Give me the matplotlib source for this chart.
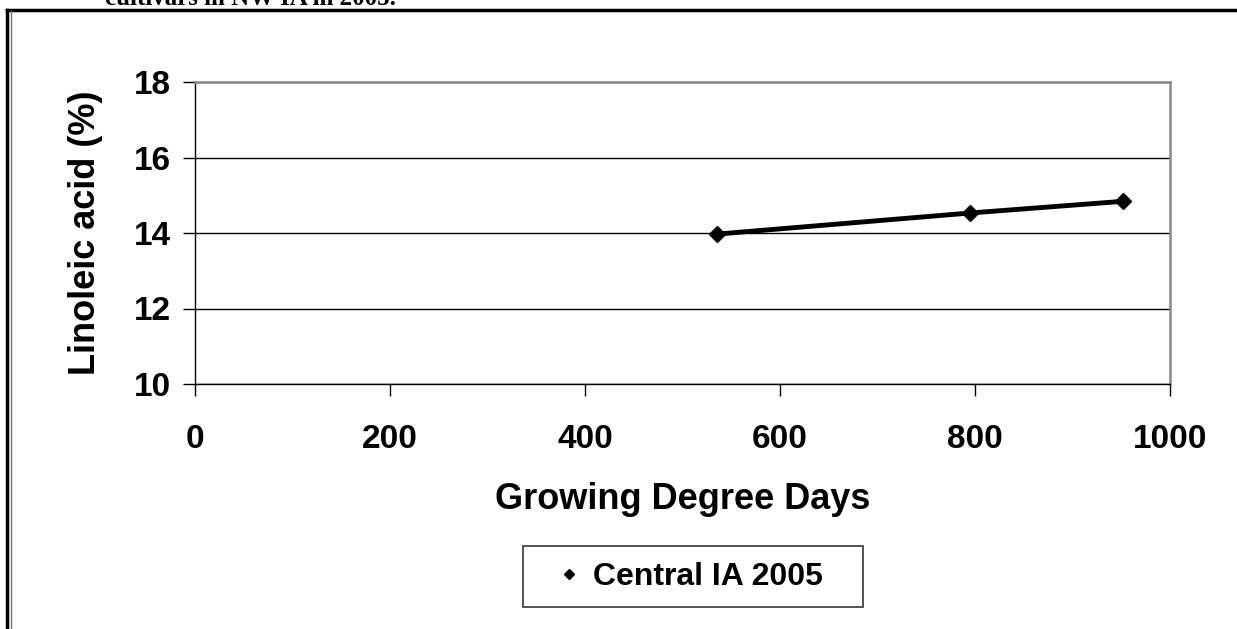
import matplotlib
matplotlib.use("Agg")
import matplotlib.pyplot as plt
from matplotlib.lines import Line2D
from matplotlib.patches import Rectangle

# values
gdd = [535, 795, 952]
linoleic = [13.97, 14.53, 14.84]
seri_adi = "Central IA 2005"
x_ticks = [0, 200, 400, 600, 800, 1000]
y_ticks = [10, 12, 14, 16, 18]

W, H = 1237, 629
plt.rcParams["font.family"] = ["Liberation Sans", "DejaVu Sans"]
plt.rcParams["font.weight"] = "bold"

fig = plt.figure(figsize=(W / 100, H / 100), dpi=100)
fig.patch.set_facecolor("white")


def px(x0, y0, x1, y1):
    """Piksel kutusunu figür koordinatına çevirir."""
    return [x0 / W, 1 - y1 / H, (x1 - x0) / W, (y1 - y0) / H]


ax = fig.add_axes(px(195, 82, 1170, 384))
ax.plot(gdd, linoleic, color="black", linewidth=3.5, marker="D",
        markersize=8.5, zorder=3)
ax.set_xlim(0, 1000)
ax.set_ylim(10, 18)
ax.set_xticks(x_ticks)
ax.set_yticks(y_ticks)
ax.grid(axis="y", color="black", linewidth=1)
ax.tick_params(axis="both", labelsize=24, length=8.5, width=1, color="black")
ax.tick_params(axis="x", pad=20)
ax.tick_params(axis="y", pad=9)
for lbl in ax.get_xticklabels() + ax.get_yticklabels():
    lbl.set_fontweight("bold")
ax.spines["top"].set_color("#888888")
ax.spines["right"].set_color("#888888")
ax.spines["top"].set_linewidth(1.8)
ax.spines["right"].set_linewidth(1.8)
ax.spines["left"].set_linewidth(1)
ax.spines["bottom"].set_linewidth(1)

ax.set_xlabel("Growing Degree Days", fontsize=26, fontweight="bold", labelpad=20)
ax.set_ylabel("Linoleic acid (%)", fontsize=26, fontweight="bold", labelpad=22)

# lejant: çerçeve ayrı çiziliyor
handle = Line2D([], [], color="black", marker="D", linestyle="none", markersize=5.5)
fig.legend([handle], [seri_adi], loc="center left",
           bbox_to_anchor=(553 / W, 1 - 577 / H),
           prop={"size": 23, "weight": "bold"}, frameon=False,
           handletextpad=0.25, borderpad=0, borderaxespad=0,
           handlelength=1.0)
fig.add_artist(Rectangle((523 / W, 1 - 607 / H), 340 / W, 61 / H,
                         transform=fig.transFigure, fill=False,
                         edgecolor="#444444", linewidth=1.3))

# sayfa çerçevesi ve kesik başlık
fig.add_artist(Line2D([7 / W, 1], [1 - 9.5 / H, 1 - 9.5 / H], color="black",
                      linewidth=2.5, transform=fig.transFigure))
fig.add_artist(Line2D([7.5 / W, 7.5 / W], [0, 1 - 9.5 / H], color="black",
                      linewidth=2.5, transform=fig.transFigure))
fig.add_artist(Line2D([11 / W, 11 / W], [0, 1 - 11 / H], color="#777777",
                      linewidth=1, transform=fig.transFigure))
fig.text(105 / W, 1 - 5 / H, "cultivars in NW IA in 2005.", fontsize=18,
         family="Liberation Serif", fontweight="bold", va="baseline", ha="left")

fig.savefig("out.png", dpi=100)
